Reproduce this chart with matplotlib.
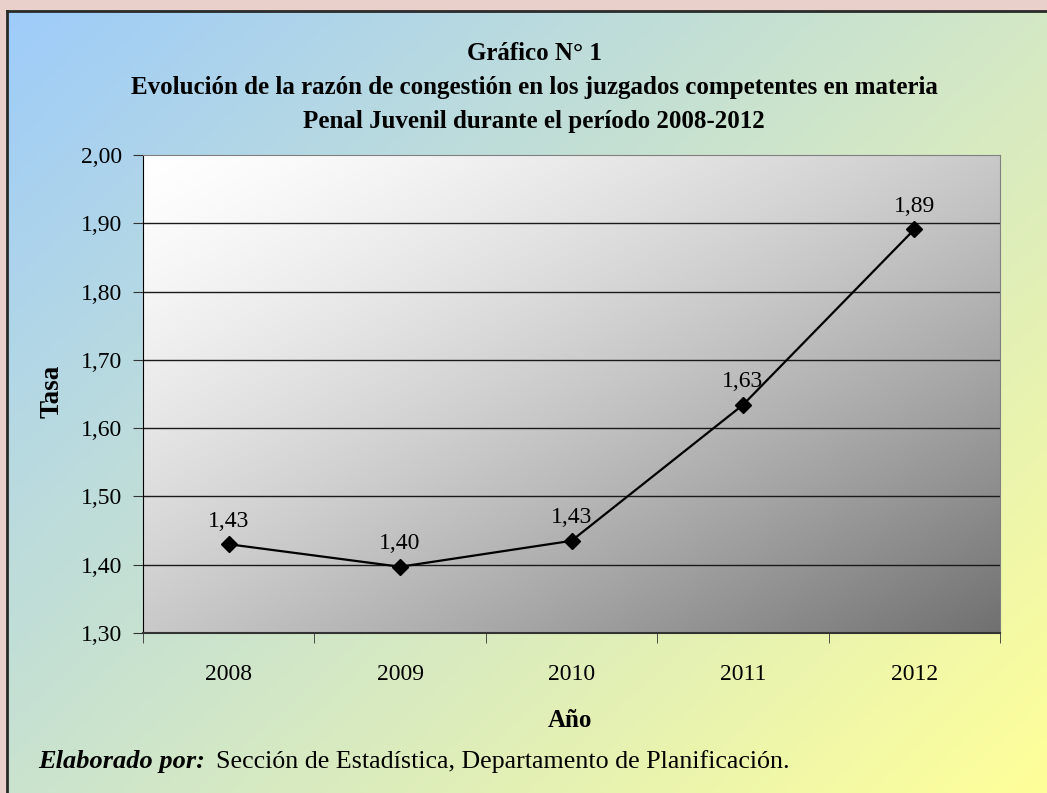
import numpy as np
import matplotlib
matplotlib.use("Agg")
import matplotlib.pyplot as plt

# ---- data ----
years = ["2008", "2009", "2010", "2011", "2012"]
tasa = [1.43, 1.397, 1.435, 1.634, 1.891]
labels = ["1,43", "1,40", "1,43", "1,63", "1,89"]
yticks = [1.30, 1.40, 1.50, 1.60, 1.70, 1.80, 1.90, 2.00]
ytick_labels = ["1,30", "1,40", "1,50", "1,60", "1,70", "1,80", "1,90", "2,00"]

title_lines = ["Gráfico N° 1",
               "Evolución de la razón de congestión en los juzgados competentes en materia",
               "Penal Juvenil durante el período 2008-2012"]

W, H = 1047, 793
plt.rcParams['font.family'] = ['Liberation Serif', 'DejaVu Serif']

fig = plt.figure(figsize=(W / 100, H / 100), dpi=100)
fig.patch.set_facecolor('#e9d0cb')

def fx(px):
    return px / W

def fy(py):
    return 1 - py / H

# outer box with diagonal gradient (blue -> yellow)
bx0, by0 = 7, 11
bg = fig.add_axes([fx(bx0), 0, 1 - fx(bx0), fy(by0)])
ny, nx = 200, 260
xx, yy = np.meshgrid(np.linspace(0, 1, nx), np.linspace(0, 1, ny))
t = (xx * 0.55 + yy * 0.45)
c0 = np.array([158, 204, 250]) / 255
c1 = np.array([255, 255, 153]) / 255
img = c0[None, None, :] * (1 - t[..., None]) + c1[None, None, :] * t[..., None]
bg.imshow(img, aspect='auto', extent=[0, 1, 0, 1], origin='upper', interpolation='bilinear')
bg.set_xlim(0, 1)
bg.set_ylim(0, 1)
bg.set_xticks([])
bg.set_yticks([])
for s in ['left', 'top']:
    bg.spines[s].set_color('#2a2a2a')
    bg.spines[s].set_linewidth(2)
for s in ['right', 'bottom']:
    bg.spines[s].set_visible(False)

# plot area
L, R, T, B = 143, 1000, 155, 633
ax = fig.add_axes([fx(L), fy(B), fx(R) - fx(L), fy(T) - fy(B)])
x = np.arange(len(years))
ax.set_xlim(-0.5, len(years) - 0.5)
ax.set_ylim(1.30, 2.00)

gy, gx = np.meshgrid(np.linspace(0, 1, 200), np.linspace(0, 1, 300), indexing='ij')
gt = (gx * 0.5 + gy * 0.5)
gval = 1.0 - 0.56 * gt ** 1.4
gimg = np.dstack([gval, gval, gval])
ax.imshow(gimg, aspect='auto', extent=[-0.5, len(years) - 0.5, 1.30, 2.00],
          origin='upper', interpolation='bilinear', zorder=0)

for yv in yticks[1:-1]:
    ax.axhline(yv, color='#1a1a1a', lw=1.0, zorder=1)

ax.plot(x, tasa, color='black', lw=1.6, marker='D', markersize=8, zorder=3)
for xi, yi, lab in zip(x, tasa, labels):
    ax.annotate(lab, (xi, yi), xytext=(0, 9), textcoords='offset points',
                ha='center', va='bottom', fontsize=17, zorder=4)

ax.set_yticks(yticks)
ax.set_yticklabels(ytick_labels, fontsize=17)
ax.set_xticks(x)
ax.set_xticklabels(years, fontsize=17)
ax.set_xticks(np.arange(-0.5, len(years)), minor=True)
ax.tick_params(axis='x', which='major', length=0, pad=22)
ax.tick_params(axis='x', which='minor', length=7, direction='out', color='#333333')
ax.tick_params(axis='y', length=7, direction='out', color='#333333', pad=8)

ax.spines['left'].set_color('black')
ax.spines['bottom'].set_color('#333333')
ax.spines['bottom'].set_linewidth(1.5)
ax.spines['top'].set_color('#808080')
ax.spines['right'].set_color('#808080')
for s in ax.spines.values():
    s.set_zorder(5)

# titles and labels (figure pixel positions)
for line, base in zip(title_lines, [60, 94, 128]):
    fig.text(fx(534), fy(base), line, ha='center', va='baseline', fontsize=18, fontweight='bold')

fig.text(fx(52), fy(391), "Tasa", ha='center', va='center', rotation=90, fontsize=19.5, fontweight='bold')
fig.text(fx(570), fy(727), "Año", ha='center', va='baseline', fontsize=18, fontweight='bold')

fn = fig.text(fx(38), fy(768), "Elaborado por:", ha='left', va='baseline', fontsize=19,
              fontweight='bold', style='italic')
fig.canvas.draw()
bb = fn.get_window_extent()
fig.text((bb.x1 + 11) / W, fy(768), "Sección de Estadística, Departamento de Planificación.",
         ha='left', va='baseline', fontsize=18.7)

fig.savefig('out.png', dpi=100, facecolor=fig.get_facecolor())
